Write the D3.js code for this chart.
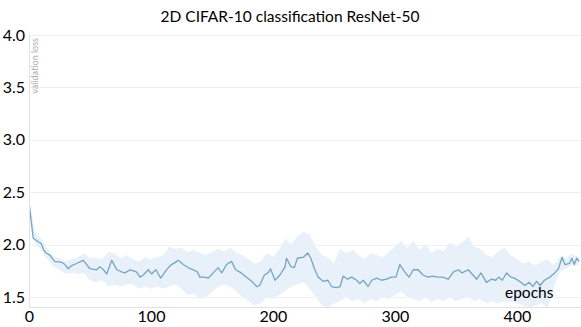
<!DOCTYPE html>
<html><head><meta charset="utf-8">
<script src="https://cdn.jsdelivr.net/npm/d3@7"></script>
<style>body{margin:0;background:#fff}svg{display:block}</style>
</head><body>
<svg id="c" width="581" height="327"></svg>
<script>
const title = "2D CIFAR-10 classification ResNet-50";
const yTicks = [1.5, 2.0, 2.5, 3.0, 3.5, 4.0];
const xTicks = [0, 100, 200, 300, 400];
const lineEpochs = [0,3.5,6,10,12,14,17,21,27,29.5,32,35,39,44.5,50,55.5,58,61,63.7,67.8,72,76,78.7,83,88,91,93.7,97.8,100.5,104,108,111.5,115.6,122.4,126.5,132,134.7,138,140,144,147,151,155,158,162,166,169.4,174,178,182.5,186.6,189,193,196,198,201.6,205.7,210,211,214.7,217.5,220,225,228.5,231,234,237,241,245,248,252,255,257.6,261,264.5,268.6,271,274,278,281,285,289,293,297,300.8,304,308,311.5,315,319,323,327,331,335,339,343.7,348,352,355,360,364,367,370.5,375,379,382.5,385,388,391.5,395,398,402,406.5,410,413,416,419,422.5,427,431,434,437,439.3,443,445,447,449,451];
const lossValues = [2.40,2.06,2.04,2.01,1.95,1.92,1.90,1.84,1.83,1.81,1.77,1.80,1.82,1.85,1.77,1.76,1.79,1.76,1.72,1.85,1.76,1.74,1.73,1.76,1.74,1.69,1.71,1.76,1.72,1.76,1.68,1.74,1.80,1.85,1.81,1.77,1.76,1.74,1.69,1.69,1.68,1.73,1.78,1.73,1.81,1.84,1.76,1.73,1.69,1.65,1.60,1.61,1.71,1.73,1.77,1.66,1.71,1.79,1.87,1.79,1.78,1.87,1.88,1.92,1.87,1.77,1.69,1.65,1.66,1.60,1.59,1.60,1.70,1.67,1.69,1.66,1.63,1.66,1.60,1.66,1.68,1.66,1.67,1.69,1.69,1.81,1.74,1.69,1.76,1.76,1.71,1.69,1.70,1.69,1.69,1.67,1.74,1.76,1.73,1.76,1.71,1.67,1.73,1.64,1.67,1.66,1.69,1.66,1.73,1.69,1.68,1.65,1.61,1.64,1.60,1.65,1.61,1.66,1.69,1.73,1.77,1.88,1.81,1.82,1.87,1.81,1.87,1.84];
const bandEpochs = [0,5,10,15,20,25,30,35,40,45,50,55,60,65,70,75,80,85,90,95,100,105,110,115,120,125,130,135,140,145,150,155,160,165,170,175,180,185,190,195,200,205,210,215,220,225,230,235,240,245,250,255,260,265,270,275,280,285,290,295,300,305,310,315,320,325,330,335,340,345,350,355,360,365,370,375,380,385,390,395,400,405,410,415,420,425,430,435,440,445,451];
const bandLower = [2.36,2.00,1.95,1.86,1.79,1.76,1.72,1.73,1.72,1.73,1.66,1.64,1.66,1.60,1.62,1.60,1.62,1.62,1.58,1.60,1.58,1.60,1.58,1.60,1.62,1.58,1.52,1.53,1.48,1.50,1.55,1.60,1.62,1.60,1.55,1.50,1.46,1.42,1.44,1.50,1.48,1.52,1.56,1.60,1.62,1.64,1.58,1.50,1.42,1.40,1.44,1.46,1.50,1.46,1.48,1.44,1.48,1.46,1.50,1.48,1.52,1.55,1.50,1.48,1.46,1.50,1.45,1.48,1.46,1.50,1.46,1.48,1.50,1.46,1.48,1.44,1.46,1.44,1.46,1.45,1.44,1.42,1.40,1.42,1.44,1.40,1.58,1.74,1.77,1.80,1.80];
const bandUpper = [2.44,2.12,2.06,1.96,1.89,1.87,1.84,1.86,1.88,1.92,1.87,1.88,1.86,1.93,1.92,1.87,1.90,1.86,1.84,1.88,1.86,1.88,1.90,1.98,1.96,1.97,1.93,1.95,1.92,1.90,1.93,1.96,1.94,1.97,1.92,1.90,1.86,1.82,1.84,1.92,1.88,1.95,2.06,2.00,2.08,2.12,2.10,1.98,1.90,1.88,1.82,1.96,1.92,1.95,1.90,1.86,1.92,1.90,1.88,1.93,1.98,2.04,1.96,2.04,1.95,2.00,1.92,1.96,1.94,2.02,1.98,2.02,2.08,1.98,1.96,1.90,1.88,1.94,1.97,1.90,1.86,1.82,1.84,1.80,1.84,1.86,1.80,1.88,1.87,1.91,1.88];

const svg = d3.select("#c");
const W = 581, H = 327;
const m = {left: 29, right: 0, top: 35, bottom: 20};
const x = d3.scaleLinear().domain([0, 452.5]).range([m.left, W]);
const y = d3.scaleLinear().domain([1.4, 4.0]).range([307.5, 35]);
const font = "Lato, 'Open Sans', sans-serif";

svg.append("defs").append("clipPath").attr("id","pc")
  .append("rect").attr("x", m.left).attr("y", 35).attr("width", W - m.left).attr("height", 307.5 - 35);

// grid
svg.append("g").selectAll("line").data(yTicks).join("line")
  .attr("x1", m.left).attr("x2", W).attr("y1", d => Math.round(y(d)) + 0.5).attr("y2", d => Math.round(y(d)) + 0.5)
  .attr("stroke", "#f0f0f0").attr("stroke-width", 1);

// band
const area = d3.area().x((d,i) => x(bandEpochs[i])).y0((d,i) => y(bandLower[i])).y1((d,i) => y(bandUpper[i]));
svg.append("path").datum(bandEpochs).attr("d", area).attr("fill", "#e8f1fa").attr("clip-path","url(#pc)");

// line
const line = d3.line().x((d,i) => x(lineEpochs[i])).y((d,i) => y(lossValues[i]));
svg.append("path").datum(lineEpochs).attr("d", line).attr("fill", "none")
  .attr("stroke", "#76a5bf").attr("stroke-width", 1.3).attr("stroke-linejoin","round").attr("clip-path","url(#pc)");

// axes lines
svg.append("line").attr("x1", m.left + 0.5).attr("x2", m.left + 0.5).attr("y1", 35).attr("y2", 307.5)
  .attr("stroke", "#e2e2e2");
svg.append("line").attr("x1", m.left).attr("x2", W).attr("y1", 307.5).attr("y2", 307.5)
  .attr("stroke", "#e2e2e2");

// y tick labels
const yAxis = d3.axisLeft(y).tickValues(yTicks).tickFormat(d3.format(".1f")).tickSize(0).tickPadding(4);
const gy = svg.append("g").attr("transform", `translate(${m.left},0)`).call(yAxis);
gy.select(".domain").remove();
gy.selectAll("text").attr("font-family", font).attr("font-size", 16).attr("fill", "#000").attr("dy", "0.32em");

// x tick labels
const xAxis = d3.axisBottom(x).tickValues(xTicks).tickFormat(d3.format("d")).tickSize(0).tickPadding(4);
const gx = svg.append("g").attr("transform", `translate(0,307)`).call(xAxis);
gx.select(".domain").remove();
gx.selectAll("text").attr("font-family", font).attr("font-size", 16).attr("fill", "#000");

// title
svg.append("text").attr("x", 290).attr("y", 22).attr("text-anchor", "middle")
  .attr("font-family", font).attr("font-size", 15.5).attr("fill", "#000").text(title);

// y label
svg.append("text").attr("transform", "translate(38,38) rotate(-90)").attr("text-anchor", "end")
  .attr("font-family", font).attr("font-size", 9).attr("fill", "#b0b0b0").text("validation loss");

// x label
svg.append("text").attr("x", 505).attr("y", 298).attr("font-family", font).attr("font-size", 15.5)
  .attr("fill", "#000").text("epochs");
</script>
</body></html>
